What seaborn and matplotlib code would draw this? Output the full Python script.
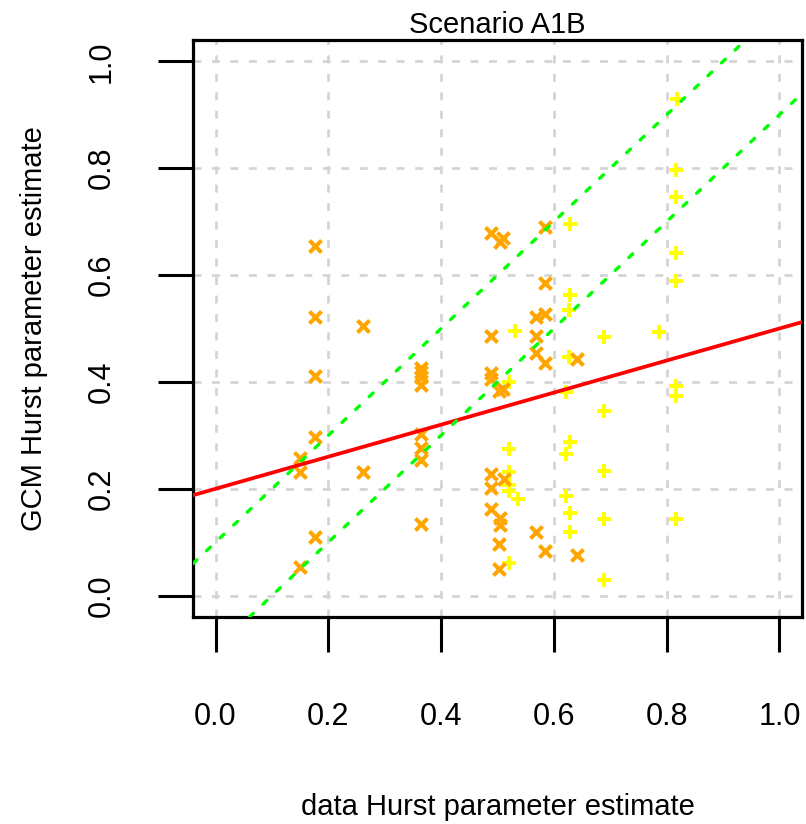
import matplotlib
matplotlib.use("Agg")
import matplotlib.pyplot as plt
import seaborn as sns

# data Hurst estimate vs GCM Hurst estimate, two groups of stations
orange_x = [0.149, 0.149, 0.149,
            0.176, 0.176, 0.176, 0.176, 0.176,
            0.261, 0.261,
            0.364, 0.364, 0.364, 0.364, 0.364, 0.364, 0.364, 0.364,
            0.489, 0.489, 0.489, 0.489, 0.489, 0.489, 0.489,
            0.504, 0.510, 0.503, 0.510, 0.511, 0.505, 0.505, 0.503, 0.503,
            0.568, 0.568, 0.568, 0.568,
            0.585, 0.585, 0.585, 0.585, 0.585,
            0.641, 0.641]
orange_y = [0.258, 0.231, 0.053,
            0.654, 0.521, 0.411, 0.297, 0.109,
            0.505, 0.232,
            0.427, 0.418, 0.409, 0.395, 0.303, 0.277, 0.253, 0.135,
            0.679, 0.486, 0.416, 0.406, 0.227, 0.201, 0.163,
            0.662, 0.670, 0.383, 0.387, 0.219, 0.145, 0.132, 0.096, 0.049,
            0.522, 0.486, 0.455, 0.120,
            0.690, 0.585, 0.528, 0.435, 0.084,
            0.442, 0.076]

yellow_x = [0.531,
            0.520, 0.520, 0.520, 0.520, 0.520, 0.537, 0.520,
            0.629, 0.629, 0.627, 0.627, 0.622, 0.629, 0.622, 0.622, 0.629, 0.629,
            0.688, 0.688, 0.688, 0.688, 0.688,
            0.787,
            0.819, 0.817, 0.817, 0.817, 0.817, 0.817, 0.817, 0.817]
yellow_y = [0.495,
            0.399, 0.275, 0.231, 0.207, 0.195, 0.181, 0.061,
            0.696, 0.563, 0.534, 0.446, 0.382, 0.288, 0.266, 0.187, 0.155, 0.120,
            0.485, 0.345, 0.234, 0.144, 0.030,
            0.493,
            0.929, 0.797, 0.747, 0.642, 0.589, 0.393, 0.373, 0.144]

# fitted line and the +/- band lines (slope 1)
fit_intercept = 0.2
fit_slope = 0.3
band_offset = 0.1

ticks = [0.0, 0.2, 0.4, 0.6, 0.8, 1.0]
tick_labels = ["0.0", "0.2", "0.4", "0.6", "0.8", "1.0"]

sns.set_style("white")
plt.rcParams['font.family'] = ['Liberation Sans', 'DejaVu Sans']
plt.rcParams['font.size'] = 21
for k in ('text.color', 'axes.labelcolor', 'xtick.color', 'ytick.color'):
    plt.rcParams[k] = 'black'

fig = plt.figure(figsize=(8.06, 8.24), dpi=100)
ax = fig.add_axes([193 / 806, 1 - 617 / 824, 609 / 806, 577 / 824])

ax.grid(True, color='#D3D3D3', linestyle=(0, (3, 4)), linewidth=1.9)
ax.set_axisbelow(True)

sns.scatterplot(x=yellow_x, y=yellow_y, marker='+', color='#FFFF00',
                s=110, linewidth=2.9, ax=ax, zorder=3)
sns.scatterplot(x=orange_x, y=orange_y, marker='x', color='#FFA500',
                s=75, linewidth=2.9, ax=ax, zorder=3)

ax.axline((0, fit_intercept), slope=fit_slope, color='#FF0000', lw=2.7, zorder=4)
for off in (band_offset, -band_offset):
    ax.axline((0, off), slope=1, color='#00FF00', lw=2.4, zorder=4,
              linestyle=(0, (1.6, 4.0)), dash_capstyle='round')

ax.set_xlim(-0.04, 1.04)
ax.set_ylim(-0.04, 1.04)
ax.set_xticks(ticks, tick_labels)
ax.set_yticks(ticks, tick_labels)
for lab in ax.get_yticklabels():
    lab.set_rotation(90)
    lab.set_va('center')

ax.tick_params(axis='both', direction='out', length=25, width=2.2,
               color='black', labelsize=22, pad=30, bottom=True, left=True)
ax.tick_params(axis='x', pad=36)

for sp in ax.spines.values():
    sp.set_linewidth(2.3)
    sp.set_color('black')

ax.set_title("Scenario A1B", fontsize=21, pad=5)
ax.set_xlabel("data Hurst parameter estimate", fontsize=21, labelpad=44)
ax.set_ylabel("GCM Hurst parameter estimate", fontsize=21, labelpad=28)

fig.savefig("out.png", dpi=100)
